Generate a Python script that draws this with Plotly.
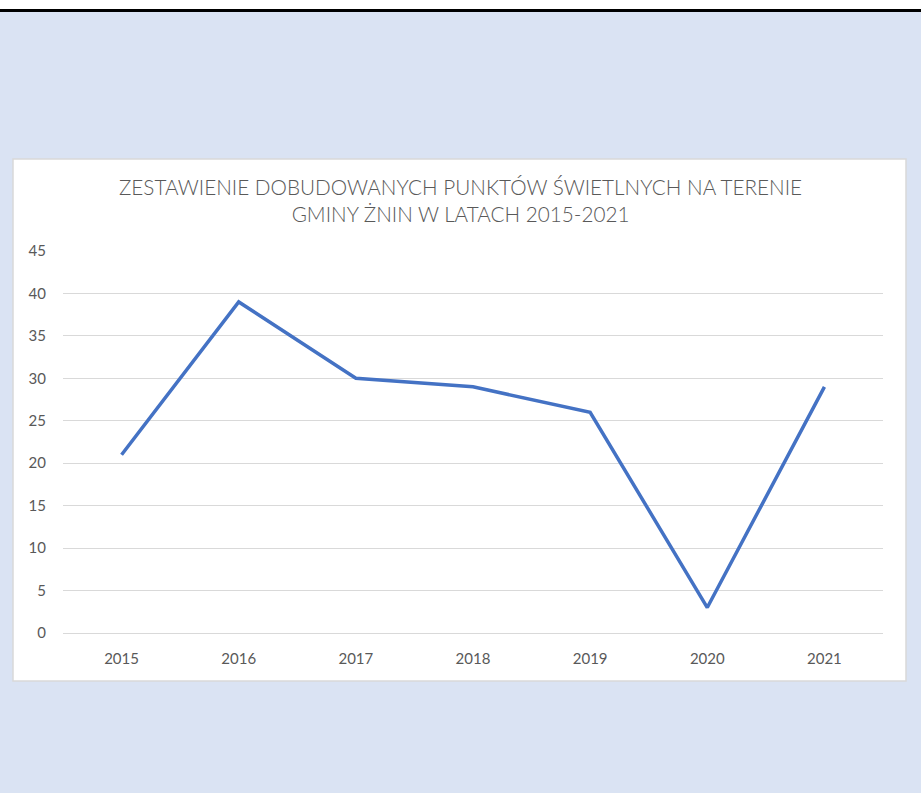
import plotly.graph_objects as go

years = ["2015", "2016", "2017", "2018", "2019", "2020", "2021"]
points = [21, 39, 30, 29, 26, 3, 29]
title_text = "ZESTAWIENIE DOBUDOWANYCH PUNKTÓW ŚWIETLNYCH NA TERENIE<br>GMINY ŻNIN W LATACH 2015-2021"

# plot area in pixels: x 63..883, y 251..633
L, R, T, B = 63, 883, 251, 633
W, H = 921, 793


def px_x(p):
    return (p - L) / (R - L)


def px_y(p):
    return (B - p) / (B - T)


fig = go.Figure()
fig.add_trace(go.Scatter(
    x=years, y=points, mode="lines",
    line=dict(color="#4472c4", width=3.5),
    hoverinfo="x+y",
))

shapes = [
    # white strip + black rule at top
    dict(type="rect", xref="paper", yref="paper", layer="below",
         x0=px_x(0), x1=px_x(W), y0=px_y(9), y1=px_y(0),
         fillcolor="white", line=dict(width=0)),
    dict(type="rect", xref="paper", yref="paper", layer="below",
         x0=px_x(0), x1=px_x(W), y0=px_y(12), y1=px_y(9),
         fillcolor="black", line=dict(width=0)),
    # chart box
    dict(type="rect", xref="paper", yref="paper", layer="below",
         x0=px_x(13), x1=px_x(906), y0=px_y(681), y1=px_y(159),
         fillcolor="white", line=dict(color="#d9d9d9", width=1.5)),
]

fig.update_layout(
    width=W, height=H,
    margin=dict(l=L, r=W - R, t=T, b=H - B),
    paper_bgcolor="#dae3f3",
    plot_bgcolor="rgba(0,0,0,0)",
    showlegend=False,
    shapes=shapes,
    font=dict(family="Lato, Open Sans, sans-serif", color="#595959", size=15),
    annotations=[dict(
        text=title_text, xref="paper", yref="paper",
        x=px_x(460), y=px_y(201), xanchor="center", yanchor="middle",
        showarrow=False,
        font=dict(family="Lato, sans-serif", size=20.7, weight=300, color="#595959"),
    )],
)

fig.update_xaxes(
    type="category", range=[-0.5, 6.5],
    showgrid=False, showline=False, zeroline=False,
    ticks="", ticklabelstandoff=15,
)
fig.update_yaxes(
    range=[0, 45], dtick=5,
    showgrid=True, gridcolor="#d9d9d9", gridwidth=1,
    zeroline=True, zerolinecolor="#d9d9d9", zerolinewidth=1,
    showline=False, ticks="", ticklabelstandoff=16,
)

fig.write_html("out.html", config={"displayModeBar": False},
               post_script="document.body.style.margin='0';")
